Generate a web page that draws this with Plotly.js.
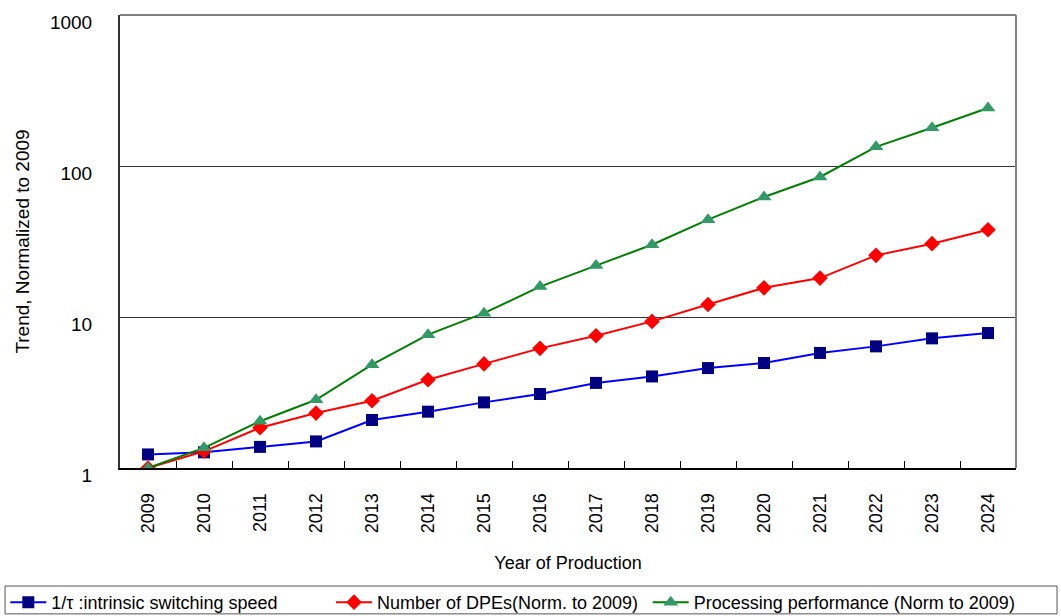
<!DOCTYPE html>
<html>
<head>
<meta charset="utf-8">
<script src="https://cdn.plot.ly/plotly-3.0.1.min.js"></script>
<style>html,body{margin:0;padding:0;background:#fff;}#chart{width:1061px;height:616px;}</style>
</head>
<body>
<div id="chart"></div>
<script>
const years = ['2009','2010','2011','2012','2013','2014','2015','2016','2017','2018','2019','2020','2021','2022','2023','2024'];
const switchingSpeed = [1.23,1.27,1.38,1.50,2.08,2.36,2.72,3.09,3.66,4.04,4.59,4.96,5.78,6.39,7.22,7.83];
const numberDPEs = [1.0,1.29,1.85,2.31,2.79,3.84,4.89,6.2,7.52,9.35,12.1,15.6,18.1,25.6,30.6,37.8];
const procPerf = [1.0,1.36,2.04,2.83,4.83,7.64,10.6,15.9,21.9,30.1,44.1,62.3,84.6,134,179,242];
const yTicks = [1,10,100,1000];
const seriesNames = ['1/τ :intrinsic switching speed','Number of DPEs(Norm. to 2009)','Processing performance (Norm to 2009)'];

const font = 'Liberation Sans, Arial, sans-serif';
const traces = [
  {x: years, y: switchingSpeed, name: seriesNames[0], type: 'scatter', mode: 'lines+markers', legend: 'legend',
   line: {color: '#0000FF', width: 2}, marker: {symbol: 'square', size: 12, color: '#000080'}},
  {x: years, y: numberDPEs, name: seriesNames[1], type: 'scatter', mode: 'lines+markers', legend: 'legend2',
   line: {color: '#FF0000', width: 2}, marker: {symbol: 'diamond', size: 12, color: '#FF0000'}},
  {x: years, y: procPerf, name: seriesNames[2], type: 'scatter', mode: 'lines+markers', legend: 'legend3',
   line: {color: '#008000', width: 2}, marker: {symbol: 'triangle-up', size: 13, color: '#339966'}}
];
function leg(x) {
  return {orientation: 'h', x: x, xanchor: 'left', y: -0.256, yanchor: 'top',
    bgcolor: 'rgba(0,0,0,0)', borderwidth: 0, font: {size: 18, family: font}, itemwidth: 36};
}
const layout = {
  width: 1061, height: 616,
  margin: {l: 120, r: 45, t: 15, b: 148, autoexpand: false},
  paper_bgcolor: '#fff', plot_bgcolor: '#fff',
  font: {family: font, color: '#000', size: 16},
  showlegend: true,
  legend: leg(-0.128),
  legend2: leg(0.2355),
  legend3: leg(0.589),
  xaxis: {type: 'category', range: [-0.5, 15.5], showgrid: false, showline: true, linecolor: '#000', linewidth: 2,
    ticks: 'inside', ticklen: 7, tickcolor: '#000', tickson: 'boundaries', tickangle: -90,
    tickfont: {size: 18, family: font}, ticklabelstandoff: 16, zeroline: false, automargin: false,
    title: {text: 'Year of Production', font: {size: 18, family: font}, standoff: 24}},
  yaxis: {type: 'log', range: [0, 3], tickvals: yTicks, ticktext: yTicks.map(String),
    showgrid: true, gridcolor: '#333', gridwidth: 1, showline: true, linecolor: '#333', linewidth: 2,
    ticks: 'inside', ticklen: 8, tickcolor: '#333', tickfont: {size: 19, family: font},
    ticklabelstandoff: 22, ticklabelshift: 7, zeroline: false, automargin: false,
    title: {text: 'Trend, Normalized to 2009', font: {size: 19, family: font}, standoff: 15}},
  shapes: [
    {type: 'line', xref: 'paper', yref: 'paper', x0: 0, x1: 1, y0: 1, y1: 1, line: {color: '#808080', width: 2}},
    {type: 'line', xref: 'paper', yref: 'paper', x0: 1, x1: 1, y0: 0, y1: 1, line: {color: '#808080', width: 2}},
    {type: 'rect', xref: 'paper', yref: 'paper', x0: -0.1283, x1: 1.0458, y0: -0.322, y1: -0.2605,
     line: {color: '#555', width: 1}, fillcolor: 'rgba(0,0,0,0)'}
  ]
};
Plotly.newPlot('chart', traces, layout, {displayModeBar: false, staticPlot: true});
</script>
</body>
</html>
